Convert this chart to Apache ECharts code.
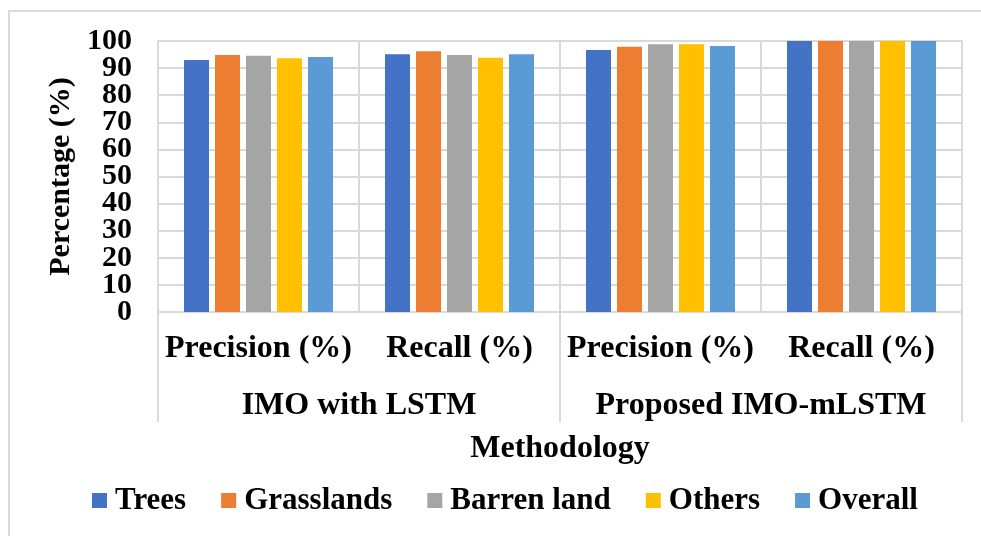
<!DOCTYPE html>
<html>
<head>
<meta charset="utf-8">
<script src="https://cdn.jsdelivr.net/npm/echarts@6/dist/echarts.min.js"></script>
<style>
html,body{margin:0;padding:0;background:#fff;}
#chart{width:981px;height:536px;}
</style>
</head>
<body>
<div id="chart"></div>
<script>
const metricLabels = ['Precision (%)', 'Recall (%)', 'Precision (%)', 'Recall (%)'];
const methodLabels = ['IMO with LSTM', 'Proposed IMO-mLSTM'];
const seriesNames = ['Trees', 'Grasslands', 'Barren land', 'Others', 'Overall'];
const trees      = [93.0, 95.1, 96.7, 100];
const grasslands = [94.8, 96.2, 97.9, 100];
const barrenLand = [94.6, 94.8, 98.8, 100];
const others     = [93.6, 93.8, 98.8, 100];
const overall    = [94.1, 95.1, 98.2, 100];
const yTicks = { min: 0, max: 100, interval: 10 };

const colors = ['#4472C4', '#ED7D31', '#A5A5A5', '#FFC000', '#5B9BD5'];
const FONT = '"Liberation Serif", "Times New Roman", serif';
const GRID_COLOR = '#d9d9d9';
const values = [trees, grasslands, barrenLand, others, overall];

// Labels are split across two overlaid y axes so adjacent labels never collide in the overlap check
const altTick = v => ((v - yTicks.min) / yTicks.interval) % 2 === 1;
const yLabelBase = {
  showMinLabel: true, showMaxLabel: true, hideOverlap: false,
  fontFamily: FONT, fontSize: 30, fontWeight: 'bold', color: '#000', margin: 26
};

const chart = echarts.init(document.getElementById('chart'));
chart.setOption({
  animation: false,
  color: colors,
  textStyle: { fontFamily: FONT },
  graphic: [{
    type: 'rect', silent: true,
    shape: { x: 9, y: 11, width: 1200, height: 800 },
    style: { fill: 'none', stroke: GRID_COLOR, lineWidth: 2 }
  }],
  grid: { left: 158, right: 19, top: 41, bottom: 224, show: true, borderColor: GRID_COLOR, borderWidth: 2 },
  legend: {
    bottom: 15, left: 87,
    icon: 'rect', itemWidth: 15, itemHeight: 15, itemGap: 35,
    textStyle: { fontFamily: FONT, fontSize: 31, fontWeight: 'bold', color: '#000', padding: [0, 0, 0, 3] },
    data: seriesNames
  },
  xAxis: [{
    type: 'category',
    data: metricLabels.map((l, i) => String(i)),
    axisLine: { lineStyle: { color: GRID_COLOR, width: 2 } },
    axisTick: { show: false },
    splitLine: { show: true, interval: 0, lineStyle: { color: GRID_COLOR, width: 2 } },
    axisLabel: {
      interval: 0, hideOverlap: false,
      formatter: (v, i) => metricLabels[i],
      fontFamily: FONT, fontSize: 32, fontWeight: 'bold', color: '#000', margin: 21
    }
  }, {
    type: 'category',
    position: 'bottom',
    data: methodLabels,
    axisLine: { show: false },
    axisTick: { show: true, interval: 0, length: 110, lineStyle: { color: GRID_COLOR, width: 2 } },
    axisLabel: { interval: 0, hideOverlap: false, fontFamily: FONT, fontSize: 32, fontWeight: 'bold', color: '#000', margin: 78 },
    name: 'Methodology',
    nameLocation: 'middle',
    nameGap: 121,
    nameTextStyle: { fontFamily: FONT, fontSize: 32, fontWeight: 'bold', color: '#000' }
  }],
  yAxis: [{
    type: 'value', position: 'left',
    min: yTicks.min, max: yTicks.max, interval: yTicks.interval,
    name: 'Percentage (%)',
    nameLocation: 'middle',
    nameGap: 74,
    nameTextStyle: { fontFamily: FONT, fontSize: 30, fontWeight: 'bold', color: '#000' },
    axisLine: { show: false },
    axisTick: { show: false },
    splitLine: { lineStyle: { color: GRID_COLOR, width: 2 } },
    axisLabel: Object.assign({}, yLabelBase, { formatter: v => altTick(v) ? '' : String(v) })
  }, {
    type: 'value', position: 'left', offset: 0,
    min: yTicks.min, max: yTicks.max, interval: yTicks.interval,
    axisLine: { show: false },
    axisTick: { show: false },
    splitLine: { show: false },
    axisLabel: Object.assign({}, yLabelBase, { formatter: v => altTick(v) ? String(v) : '' })
  }],
  series: seriesNames.map((n, i) => ({
    name: n, type: 'bar', xAxisIndex: 0, yAxisIndex: 0,
    data: values[i],
    barWidth: 25, barGap: '24%'
  }))
});
</script>
</body>
</html>
